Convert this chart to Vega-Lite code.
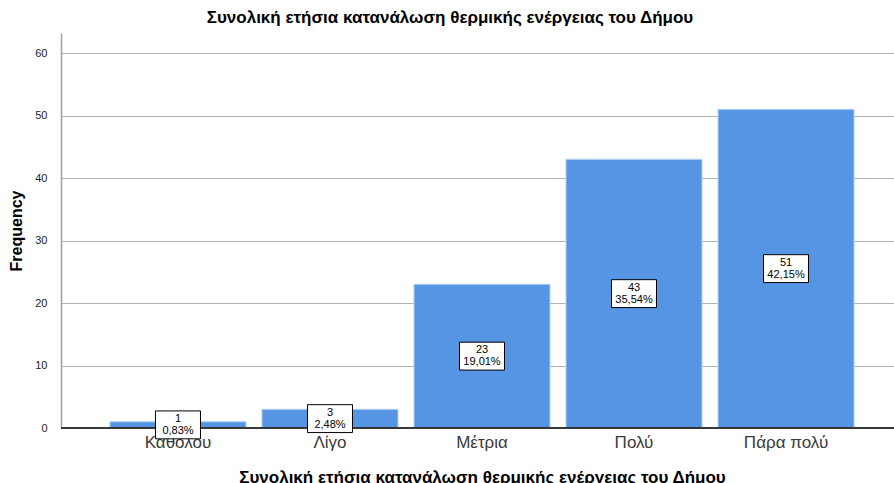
{
  "$schema": "https://vega.github.io/schema/vega-lite/v6.json",
  "width": 842,
  "height": 395,
  "autosize": {"type": "none"},
  "padding": {"left": 61, "top": 33, "right": 0, "bottom": 55},
  "background": "white",
  "config": {"view": {"stroke": null}, "font": "Liberation Sans"},
  "title": {
    "text": "Συνολική ετήσια κατανάλωση θερμικής ενέργειας του Δήμου",
    "font": "Liberation Sans",
    "fontSize": 17,
    "fontWeight": "bold",
    "color": "#000000",
    "anchor": "middle",
    "dx": -32,
    "offset": 6
  },
  "data": {
    "values": [
      {"cat": "Καθολου", "count": 1, "pct": "0,83%"},
      {"cat": "Λίγο", "count": 3, "pct": "2,48%"},
      {"cat": "Μέτρια", "count": 23, "pct": "19,01%"},
      {"cat": "Πολύ", "count": 43, "pct": "35,54%"},
      {"cat": "Πάρα πολύ", "count": 51, "pct": "42,15%"}
    ]
  },
  "encoding": {
    "x": {
      "field": "cat",
      "type": "nominal",
      "sort": null,
      "scale": {"paddingInner": 0.105, "paddingOuter": 0.322},
      "axis": {
        "domain": false,
        "ticks": false,
        "labelAngle": 0,
        "labelFont": "Liberation Sans",
        "labelFontSize": 17,
        "labelColor": "#3a3a3a",
        "labelPadding": 6,
        "title": "Συνολική ετήσια κατανάλωση θερμικής ενέργειας του Δήμου",
        "titleFont": "Liberation Sans",
        "titleFontSize": 17,
        "titleFontWeight": "bold",
        "titleColor": "#000000",
        "titlePadding": 19
      }
    }
  },
  "layer": [
    {
      "encoding": {
        "y": {
          "field": "count",
          "type": "quantitative",
          "scale": {"domain": [0, 63.2], "nice": false},
          "axis": {
            "values": [0, 10, 20, 30, 40, 50, 60],
            "grid": true,
            "gridColor": "#b4b4b4",
            "gridWidth": 1,
            "domain": true,
            "domainColor": "#a0a0a0",
            "domainWidth": 1.5,
            "ticks": false,
            "labelPadding": 14,
            "labelFont": "Liberation Sans",
            "labelFontSize": 11,
            "labelColor": "#222222",
            "title": "Frequency",
            "titleFont": "Liberation Sans",
            "titleFontSize": 16,
            "titleFontWeight": "bold",
            "titleColor": "#000000",
            "titlePadding": 10
          }
        }
      },
      "layer": [
        {"mark": {"type": "bar", "color": "#5595e4", "stroke": "#b8d2f3", "strokeWidth": 1}},
        {"mark": {"type": "rule", "color": "#333333", "strokeWidth": 1}, "encoding": {"y": {"datum": 0}, "x": {"value": 0}, "x2": {"value": 842}}}
      ]
    },
    {
      "encoding": {
        "y": {
          "field": "count",
          "type": "quantitative",
          "scale": {"domain": [0, 126.4], "nice": false},
          "axis": null
        }
      },
      "layer": [
        {
          "mark": {
            "type": "point",
            "shape": "M-1,-0.62L1,-0.62L1,0.62L-1,0.62Z",
            "size": 2025,
            "filled": true,
            "fill": "white",
            "stroke": "#000000",
            "strokeWidth": 1,
            "opacity": 1
          }
        },
        {
          "mark": {"type": "text", "font": "Liberation Sans", "fontSize": 11, "color": "#000000", "dy": -6, "baseline": "middle"},
          "encoding": {"text": {"field": "count", "type": "quantitative"}}
        },
        {
          "mark": {"type": "text", "font": "Liberation Sans", "fontSize": 11, "color": "#000000", "dy": 6, "baseline": "middle"},
          "encoding": {"text": {"field": "pct", "type": "nominal"}}
        }
      ]
    }
  ],
  "resolve": {"scale": {"y": "independent"}}
}
